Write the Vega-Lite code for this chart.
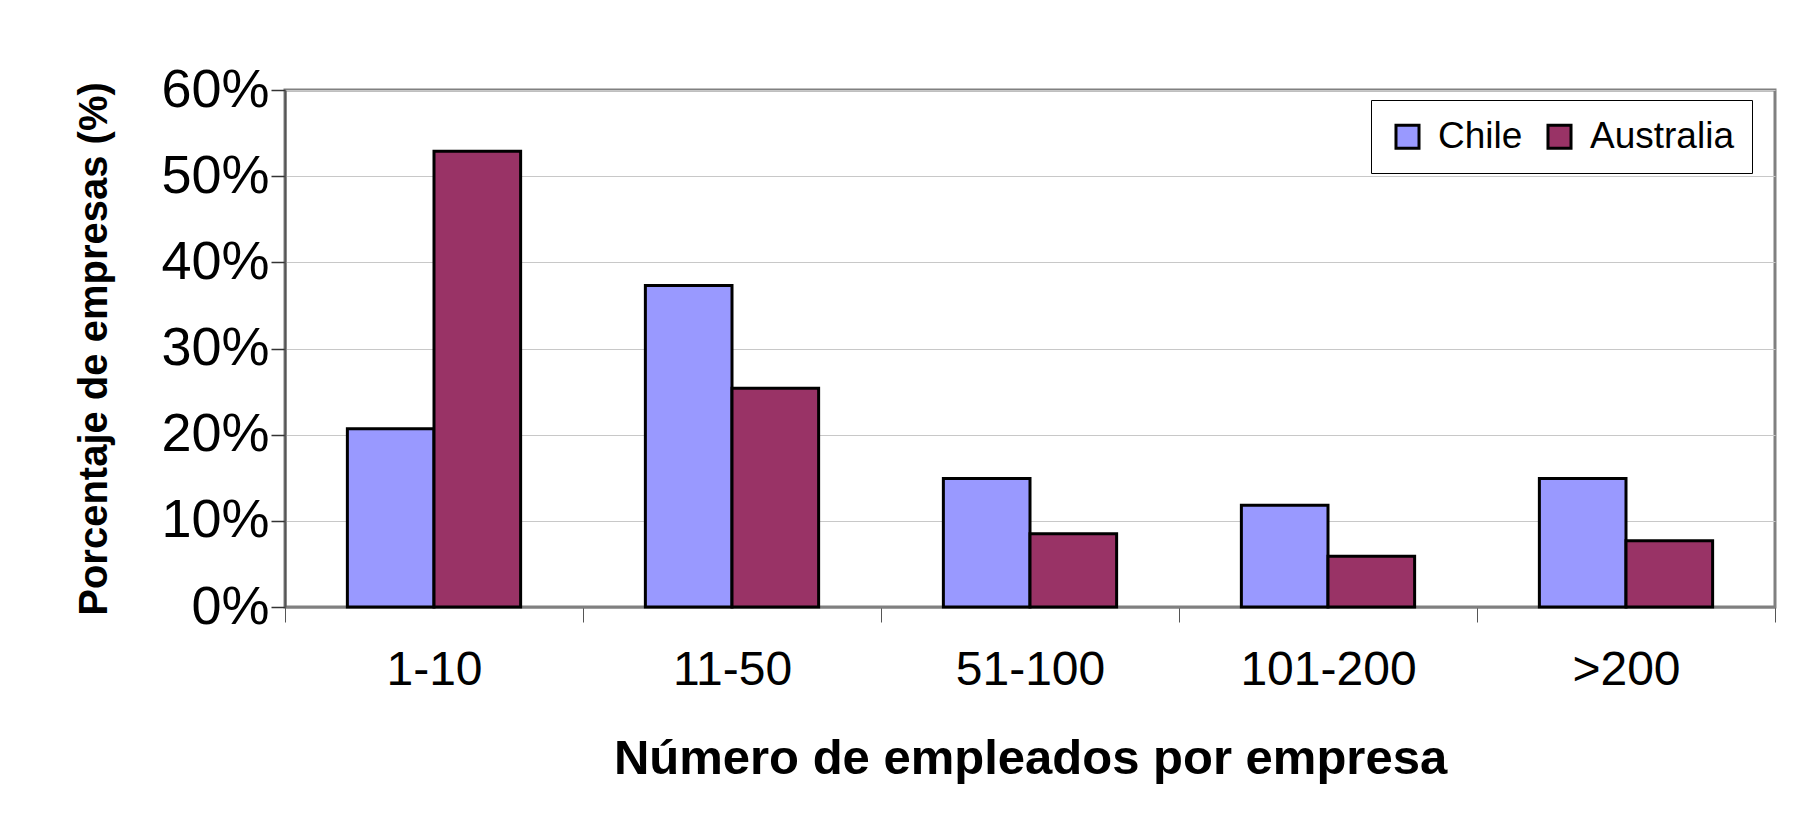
{
  "$schema": "https://vega.github.io/schema/vega-lite/v6.json",
  "width": 1490,
  "height": 517,
  "autosize": {"type": "none"},
  "padding": {"left": 285, "top": 90, "right": 43, "bottom": 231},
  "background": "white",
  "data": {
    "values": [
      {"grupo": "1-10", "pais": "Chile", "valor": 0.207},
      {"grupo": "1-10", "pais": "Australia", "valor": 0.529},
      {"grupo": "11-50", "pais": "Chile", "valor": 0.373},
      {"grupo": "11-50", "pais": "Australia", "valor": 0.254},
      {"grupo": "51-100", "pais": "Chile", "valor": 0.149},
      {"grupo": "51-100", "pais": "Australia", "valor": 0.085},
      {"grupo": "101-200", "pais": "Chile", "valor": 0.118},
      {"grupo": "101-200", "pais": "Australia", "valor": 0.059},
      {"grupo": ">200", "pais": "Chile", "valor": 0.149},
      {"grupo": ">200", "pais": "Australia", "valor": 0.077}
    ]
  },
  "mark": {"type": "bar", "stroke": "black", "strokeWidth": 3},
  "encoding": {
    "x": {
      "field": "grupo",
      "type": "nominal",
      "sort": ["1-10", "11-50", "51-100", "101-200", ">200"],
      "scale": {"paddingInner": 0, "paddingOuter": 0},
      "axis": {
        "title": "Número de empleados por empresa",
        "titleFont": "Liberation Sans",
        "titleFontSize": 49,
        "titleFontWeight": "bold",
        "titleColor": "black",
        "titlePadding": 40,
        "labelAngle": 0,
        "labelFont": "Liberation Sans",
        "labelFontSize": 48,
        "labelColor": "black",
        "labelPadding": 24,
        "tickBand": "extent",
        "tickSize": 15,
        "tickColor": "#555",
        "tickWidth": 1,
        "domainColor": "#808080",
        "domainWidth": 2,
        "grid": false
      }
    },
    "xOffset": {"field": "pais", "type": "nominal", "sort": ["Chile", "Australia"], "scale": {"paddingInner": 0, "paddingOuter": 0.72}},
    "y": {
      "field": "valor",
      "type": "quantitative",
      "scale": {"domain": [0, 0.6], "nice": false},
      "axis": {
        "title": "Porcentaje de empresas (%)",
        "titleFont": "Liberation Sans",
        "titleFontSize": 40,
        "titleFontWeight": "bold",
        "titleColor": "black",
        "titlePadding": 46,
        "values": [0, 0.1, 0.2, 0.3, 0.4, 0.5, 0.6],
        "format": ".0%",
        "labelFont": "Liberation Sans",
        "labelFontSize": 54,
        "labelColor": "black",
        "labelPadding": 2,
        "tickSize": 14,
        "tickColor": "#333",
        "tickWidth": 1.5,
        "domainColor": "#555",
        "domainWidth": 2,
        "grid": true,
        "gridColor": "#c8c8c8",
        "gridWidth": 1
      }
    },
    "fill": {
      "field": "pais",
      "type": "nominal",
      "sort": ["Chile", "Australia"],
      "scale": {"domain": ["Chile", "Australia"], "range": ["#9999FF", "#993366"]},
      "legend": {
        "title": null,
        "orient": "none",
        "direction": "horizontal",
        "legendX": 1086,
        "legendY": 10,
        "strokeColor": "black",
        "fillColor": "white",
        "padding": 18,
        "symbolType": "square",
        "symbolSize": 530,
        "symbolStrokeColor": "black",
        "symbolStrokeWidth": 3,
        "labelFont": "Liberation Sans",
        "labelFontSize": 37,
        "labelColor": "black",
        "labelOffset": 12,
        "columnPadding": 18,
        "labelLimit": 300
      }
    }
  },
  "config": {
    "view": {"stroke": "#808080", "strokeWidth": 3}
  }
}
